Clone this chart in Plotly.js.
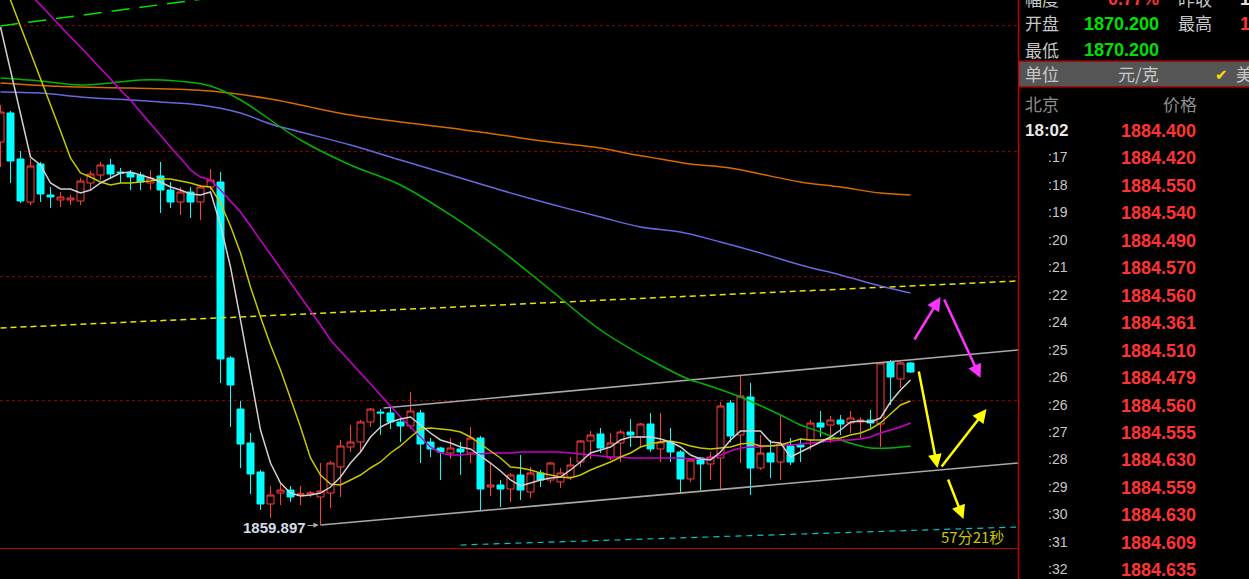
<!DOCTYPE html>
<html><head><meta charset="utf-8">
<script src="https://cdn.plot.ly/plotly-3.0.1.min.js"></script>
<style>html,body{margin:0;padding:0;background:#000;overflow:hidden}#chart{width:1249px;height:579px}</style>
</head><body><div id="chart"></div>
<script>
// ---- candle data (price) ----
const opens = [1923.73,1928.57,1920.9,1913.73,1920.07,1914.9,1914.07,1914.07,1913.9,1916.9,
1918.23,1919.9,1918.73,1918.57,1918.23,1916.9,1918.07,1915.73,1913.73,1915.4,
1913.73,1916.23,1917.07,1887.73,1879.23,1873.57,1868.73,1863.4,1865.23,1865.73,
1864.9,1865.07,1864.57,1865.23,1869.57,1872.9,1873.73,1877.07,1878.73,1878.57,
1877.07,1876.4,1878.57,1873.73,1872.73,1871.9,1872.57,1871.9,1874.4,1866.23,
1866.57,1865.9,1868.23,1865.4,1868.57,1867.4,1867.07,1867.9,1870.4,1873.9,
1875.07,1871.07,1873.57,1875.4,1874.57,1876.73,1872.57,1873.73,1872.07,1867.57,
1871.07,1870.07,1871.07,1880.23,1874.9,1881.23,1869.4,1871.9,1870.4,1873.07,
1873.23,1874.07,1876.9,1876.57,1877.4,1876.9,1877.07,1877.4,1876.73,1887.07,
1884.23,1886.9];
const highs = [1929.9,1928.9,1922.23,1920.9,1920.4,1916.23,1915.4,1914.9,1917.73,1918.9,
1920.4,1920.9,1919.4,1919.07,1918.73,1919.07,1920.4,1917.07,1916.23,1916.23,
1916.57,1919.23,1918.73,1888.07,1880.57,1875.23,1869.07,1866.4,1866.73,1866.4,
1866.4,1865.57,1870.23,1870.57,1874.07,1876.57,1877.4,1879.4,1879.23,1879.4,
1877.9,1882.07,1879.07,1874.4,1872.9,1874.4,1873.73,1876.23,1874.73,1870.23,
1867.4,1868.57,1871.57,1869.57,1869.07,1870.4,1869.4,1871.23,1874.07,1875.57,
1876.07,1875.23,1875.73,1877.57,1876.9,1878.57,1878.57,1876.07,1872.4,1871.07,
1871.23,1872.07,1880.4,1880.73,1884.9,1883.57,1874.9,1874.07,1878.23,1874.4,
1874.4,1877.4,1878.9,1878.07,1878.23,1878.9,1877.9,1879.07,1887.07,1887.4,
1887.07,1887.07];
const lows = [1919.57,1916.9,1913.57,1913.23,1913.73,1912.73,1912.9,1913.23,1913.23,1915.73,
1917.4,1917.73,1916.9,1915.73,1915.73,1915.73,1911.9,1912.73,1911.57,1911.07,
1910.73,1915.73,1883.57,1876.23,1869.4,1865.07,1862.4,1861.07,1863.23,1863.73,
1863.23,1864.57,1859.897,1862.73,1864.57,1872.07,1872.07,1876.23,1874.9,1875.9,
1873.73,1875.9,1870.23,1871.23,1867.4,1870.9,1868.23,1870.23,1862.4,1864.73,
1862.9,1863.73,1864.07,1864.4,1866.23,1866.9,1866.07,1867.4,1869.57,1870.9,
1871.9,1870.73,1870.4,1872.9,1872.9,1872.07,1870.4,1870.4,1865.23,1867.07,
1865.73,1867.4,1865.9,1873.73,1870.23,1864.9,1869.07,1867.73,1867.4,1869.9,
1870.4,1872.4,1874.57,1873.57,1874.9,1875.23,1874.4,1876.07,1872.9,1879.9,
1882.73,1885.23];
const closes = [1928.73,1920.57,1913.9,1919.73,1915.07,1914.57,1914.57,1914.4,1917.23,1918.4,
1919.9,1918.4,1918.57,1917.9,1917.07,1917.73,1915.73,1913.73,1915.4,1913.73,
1916.23,1917.4,1887.57,1883.23,1873.4,1868.4,1863.4,1864.9,1865.73,1864.57,
1865.07,1865.23,1865.57,1870.23,1873.07,1873.73,1877.07,1879.23,1878.57,1877.07,
1876.4,1878.9,1873.4,1872.57,1872.07,1872.73,1872.07,1874.4,1865.9,1866.57,
1865.9,1868.23,1865.73,1868.57,1867.4,1870.23,1868.57,1869.9,1873.9,1874.9,
1872.73,1873.57,1875.4,1874.9,1876.73,1872.57,1873.73,1872.07,1867.57,1870.73,
1870.07,1871.23,1879.73,1874.73,1881.4,1869.4,1871.9,1870.4,1873.4,1870.4,
1872.9,1876.9,1876.23,1877.4,1876.73,1877.73,1877.4,1876.9,1886.9,1884.57,
1886.9,1885.4];

// ---- moving averages ----
const maWhite = [1942.9,1935.73,1928.07,1921.23,1919.9,1916.9,1915.9,1915.9,1915.23,1915.73,
1916.9,1917.73,1918.57,1918.73,1918.23,1917.73,1917.07,1916.23,1915.73,1915.07,
1914.9,1915.4,1909.9,1902.9,1894.07,1885.23,1875.73,1870.23,1866.9,1865.23,
1864.73,1864.9,1865.23,1866.23,1867.9,1870.23,1872.07,1874.57,1876.23,1877.07,
1877.57,1877.9,1876.57,1875.23,1874.07,1873.57,1872.9,1872.57,1871.4,1870.23,
1868.9,1867.4,1866.4,1866.9,1867.4,1867.73,1867.9,1869.07,1870.4,1871.9,
1872.4,1872.9,1874.07,1874.57,1874.57,1874.57,1874.23,1873.73,1872.9,1871.57,
1870.9,1870.73,1872.07,1874.07,1875.57,1875.57,1875.57,1873.73,1873.57,1871.23,
1872.07,1872.9,1873.73,1874.57,1875.73,1877.07,1877.23,1877.07,1877.73,1880.4,
1882.4,1884.07];
const maYellow = [1951.73,1947.4,1943.07,1938.73,1934.4,1930.23,1925.57,1921.07,1918.57,1917.9,
1917.07,1916.57,1916.9,1916.9,1917.07,1917.23,1917.57,1917.57,1917.23,1916.9,
1916.4,1916.23,1913.57,1909.73,1905.23,1899.57,1894.57,1889.9,1885.73,1881.07,
1876.23,1871.07,1868.23,1866.73,1866.57,1867.4,1868.23,1869.4,1870.4,1871.9,
1873.07,1874.57,1875.9,1876.07,1875.9,1875.73,1875.4,1874.57,1873.4,1872.23,
1871.07,1869.57,1869.4,1869.07,1868.57,1868.23,1867.9,1867.73,1868.23,1869.07,
1869.73,1870.4,1871.23,1871.9,1872.9,1873.4,1873.73,1873.9,1873.57,1873.07,
1872.73,1872.57,1872.73,1872.9,1873.4,1873.57,1873.07,1873.07,1873.23,1873.73,
1874.23,1874.07,1874.07,1874.23,1874.4,1874.9,1875.23,1875.9,1876.9,1878.4,
1879.9,1880.57];
const maMagenta = [1953.57,1951.73,1950.07,1948.23,1946.57,1944.73,1943.07,1941.23,1939.57,1937.73,
1936.07,1934.23,1932.4,1930.73,1928.73,1926.73,1924.73,1922.9,1921.07,1919.07,
1917.9,1917.4,1915.73,1913.9,1912.07,1909.73,1907.4,1905.07,1902.73,1900.4,
1898.07,1895.57,1893.23,1890.73,1888.9,1887.07,1885.23,1883.23,1881.4,1879.57,
1877.9,1876.23,1874.57,1872.9,1871.9,1871.57,1871.57,1871.73,1871.73,1871.9,
1871.9,1871.9,1872.07,1872.07,1872.07,1872.07,1872.07,1871.9,1871.73,1871.57,
1871.4,1871.23,1871.23,1871.07,1871.07,1871.07,1871.07,1871.07,1871.07,1870.9,
1870.9,1871.07,1871.57,1872.23,1872.73,1872.9,1872.9,1873.07,1873.23,1873.23,
1873.4,1873.57,1873.73,1873.9,1874.07,1874.07,1874.23,1874.57,1875.23,1875.73,
1876.23,1876.9];
const maGreenIdx = [0,4,8,11,14,16,21,24,30,35,40,45,50,55,60,65,69,70,74,78,80,82,84,86,87,89,91];
const maGreen = [1934.4,1933.9,1933.23,1933.57,1934.07,1934.07,1933.07,1930.73,1924.07,1919.9,1916.57,1911.57,1905.73,1899.07,1892.4,1887.4,1884.07,1883.57,1881.23,1878.23,1876.57,1875.4,1874.07,1873.07,1872.73,1872.73,1873.07];
const maBlueIdx = [0,4,8,13,16,20,24,27,30,35,40,45,50,55,60,64,68,72,76,80,84,88,91];
const maBlue = [1932.07,1931.9,1931.23,1930.73,1930.4,1929.9,1928.57,1926.73,1925.4,1923.23,1920.73,1918.23,1915.73,1913.4,1911.23,1909.57,1908.73,1907.07,1905.23,1903.23,1901.57,1899.73,1898.57];
const maOrangeIdx = [0,5,8,13,21,27,30,35,40,45,50,55,60,63,66,69,73,76,80,84,88,91];
const maOrange = [1933.57,1933.07,1932.9,1932.73,1932.23,1930.9,1929.9,1928.23,1927.07,1926.07,1924.9,1923.73,1922.73,1921.73,1920.9,1920.07,1919.4,1918.4,1917.07,1916.23,1915.23,1914.9];

// ---- drawn lines / annotations (index, price) ----
const greenTrendX = [0, 30], greenTrendY = [1943.07, 1949.73];
const yellowTrendX = [0, 101.8], yellowTrendY = [1892.73, 1900.57];
const cyanTrendX = [46, 101.8], cyanTrendY = [1856.57, 1859.57];
const channelUpperX = [38.3, 101.8], channelUpperY = [1879.4, 1889.07];
const channelLowerX = [32, 101.8], channelLowerY = [1859.897, 1870.23];
const gridPrices = [1943.07, 1922.23, 1901.4, 1880.73];
const lowIndex = 32, lowPrice = 1859.897, lowLabel = '1859.897';
const arrowTailX = [91.3, 94.3, 91.8, 94.0, 94.7];
const arrowTailY = [1890.57, 1897.73, 1885.73, 1869.4, 1867.73];
const arrowTipX = [94.0, 98.0, 93.7, 98.6, 96.3];
const arrowTipY = [1897.9, 1884.4, 1869.4, 1879.23, 1860.9];
const timerText = '57分21秒';

// ---- side panel ----
const tickTimes = ['18:02',':17',':18',':19',':20',':21',':22',':24',':25',':26',':26',':27',':28',':29',':30',':31',':32'];
const tickPrices = ['1884.400','1884.420','1884.550','1884.540','1884.490','1884.570','1884.560','1884.361','1884.510','1884.479','1884.560','1884.555','1884.630','1884.559','1884.630','1884.609','1884.635'];
const infoOpen = '1870.200', infoLow = '1870.200', infoRange = '0.77%';

const W = 1249, H = 579, plotRight = 1018, plotBottom = 548;
const PX = v => v / W, PY = v => 1 - v / H;
const idx = opens.map((_, i) => i);
const CJK = 'Noto Sans CJK SC', LAT = 'Liberation Sans';

function line(x, y, color, width, dash, shape) {
  return {type:'scatter', mode:'lines', x, y, hoverinfo:'skip',
    line:{color, width, dash: dash || 'solid', shape: shape || 'linear'}};
}
const traces = [
  line(greenTrendX, greenTrendY, '#00e600', 1.5, '18px,10px'),
  line(yellowTrendX, yellowTrendY, '#e6e600', 1.5, '6px,4px'),
  line(cyanTrendX, cyanTrendY, '#00c8c8', 1.2, '6px,5px'),
  line(channelUpperX, channelUpperY, '#a8a8a8', 1.6),
  line(channelLowerX, channelLowerY, '#a8a8a8', 1.6),
  line(maOrangeIdx, maOrange, '#d86a00', 1.5, null, 'spline'),
  line(maBlueIdx, maBlue, '#6868e0', 1.5, null, 'spline'),
  line(maGreenIdx, maGreen, '#00b400', 1.5, null, 'spline'),
  {type:'candlestick', x: idx, open: opens, high: highs, low: lows, close: closes,
   increasing:{line:{color:'#ff3c3c', width:1}, fillcolor:'#000000'},
   decreasing:{line:{color:'#00ffff', width:1}, fillcolor:'#00ffff'},
   whiskerwidth:0, hoverinfo:'skip'},
  line(idx, maMagenta, '#cc00cc', 1.5),
  line(idx, maYellow, '#c8c800', 1.5),
  line(idx, maWhite, '#d0d0d0', 1.5)
];

function txt(text, x, y, anchor, size, color, family, bold) {
  return {xref:'paper', yref:'paper', x: PX(x), y: PY(y), xanchor: anchor, yanchor:'middle',
    text: bold ? '<b>' + text + '</b>' : text, showarrow:false, borderpad:0,
    font:{size, color, family}};
}
const ann = [];
const lbl = '#c8c8c8', dim = '#8c8c8c', grn = '#00e000', red = '#ff3333';
ann.push(txt('幅度', 1042, -1, 'center', 17, lbl, CJK));
ann.push(txt(infoRange, 1160, -1, 'right', 18, red, LAT, true));
ann.push(txt('昨收', 1195, -1, 'center', 17, lbl, CJK));
ann.push(txt('1', 1239, -1, 'left', 18, '#e0e0e0', LAT, true));
ann.push(txt('开盘', 1042, 23, 'center', 17, lbl, CJK));
ann.push(txt(infoOpen, 1160, 24, 'right', 18, grn, LAT, true));
ann.push(txt('最高', 1195, 23, 'center', 17, lbl, CJK));
ann.push(txt('1', 1239, 24, 'left', 18, red, LAT, true));
ann.push(txt('最低', 1042, 49, 'center', 17, lbl, CJK));
ann.push(txt(infoLow, 1160, 50, 'right', 18, grn, LAT, true));
ann.push(txt('单位', 1042, 74, 'center', 17, lbl, CJK));
ann.push(txt('元/克', 1138, 74, 'center', 17, lbl, CJK));
ann.push(txt('✔', 1221, 75, 'center', 15, '#ffe000', 'DejaVu Sans'));
ann.push(txt('美', 1235, 74, 'left', 17, lbl, CJK));
ann.push(txt('北京', 1042, 103, 'center', 17, dim, CJK));
ann.push(txt('价格', 1180, 103, 'center', 17, dim, CJK));
tickTimes.forEach((t, k) => {
  const yy = 130 + k * 27.45;
  const first = k === 0;
  ann.push(txt(t, 1069, yy, 'right', first ? 17 : 14, first ? '#e8e8e8' : lbl, LAT, first));
  ann.push(txt(tickPrices[k], 1197, yy + 1, 'right', 18, red, LAT, true));
});
ann.push(txt(timerText, 972, 536, 'center', 15, '#c8c800', CJK));
ann.push({xref:'x', yref:'y', x: lowIndex, y: lowPrice, ax: -46, ay: 2,
  text:'<b>' + lowLabel + '</b>', showarrow:true, arrowhead:2, arrowsize:1, arrowwidth:1,
  arrowcolor:'#b0b0b0', standoff:2, font:{size:15, color:'#d4dcea', family:LAT}});
const arrowColors = ['#ff33ff','#ff33ff','#ffff00','#ffff00','#ffff00'];
arrowTipX.forEach((x, k) => {
  ann.push({xref:'x', yref:'y', axref:'x', ayref:'y', x, y: arrowTipY[k], ax: arrowTailX[k], ay: arrowTailY[k],
    text:'', showarrow:true, arrowhead:2, arrowsize:1.1, arrowwidth:2.5, arrowcolor: arrowColors[k]});
});

const shapes = [
  {type:'rect', xref:'paper', yref:'paper', x0: PX(1019), x1: 1, y0: PY(87), y1: PY(61), fillcolor:'#555555', line:{width:0}},
  {type:'line', xref:'paper', yref:'paper', x0: PX(1019), x1: 1, y0: PY(61), y1: PY(61), line:{color:'#a00000', width:1.5}},
  {type:'line', xref:'paper', yref:'paper', x0: PX(1019), x1: 1, y0: PY(87), y1: PY(87), line:{color:'#a00000', width:1.5}},
  {type:'line', xref:'paper', yref:'paper', x0: PX(1018.5), x1: PX(1018.5), y0: 0, y1: 1, line:{color:'#c00000', width:1.5}}
];

const layout = {
  width: W, height: H, margin:{l:0, r:0, t:0, b:0}, paper_bgcolor:'#000', plot_bgcolor:'#000',
  showlegend:false, hovermode:false, dragmode:false, boxgap:0.3, boxgroupgap:0,
  xaxis:{domain:[0, plotRight / W], range:[-0.05, 101.75], showgrid:false, zeroline:false,
    showticklabels:false, ticks:'', showline:true, linecolor:'#c00000', linewidth:1,
    rangeslider:{visible:false}, fixedrange:true},
  yaxis:{domain:[(H - plotBottom) / H, 1], range:[1856.0667, 1947.4], tickmode:'array', tickvals: gridPrices,
    showticklabels:false, ticks:'', showgrid:true, gridcolor:'#8c0000', griddash:'dot', gridwidth:1,
    zeroline:false, showline:false, fixedrange:true},
  shapes, annotations: ann
};
Plotly.newPlot('chart', traces, layout, {staticPlot:true, displayModeBar:false});
</script></body></html>
